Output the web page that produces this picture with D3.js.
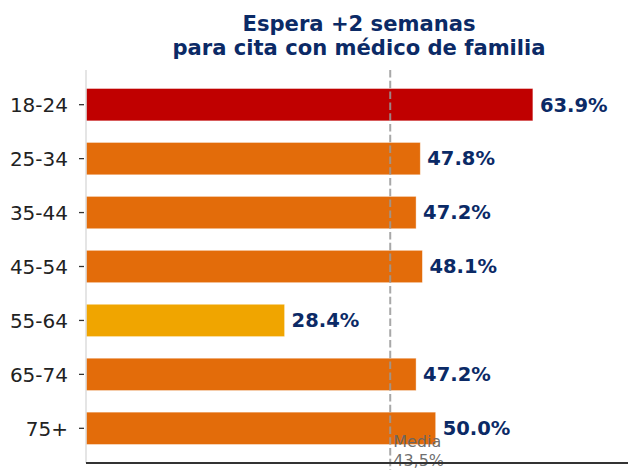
<!DOCTYPE html>
<html>
<head>
<meta charset="utf-8">
<script src="https://cdn.jsdelivr.net/npm/d3@7"></script>
<style>
  body { margin: 0; background: #fff; }
  svg { display: block; font-family: "DejaVu Sans", sans-serif; }
</style>
</head>
<body>
<div id="chart"></div>
<script>
'use strict'

// datos
let grupos = ["18-24", "25-34", "35-44", "45-54", "55-64", "65-74", "75+"]
let valores = [63.9, 47.8, 47.2, 48.1, 28.4, 47.2, 50.0]
let colores = ["#c00000", "#e36c0a", "#e36c0a", "#e36c0a", "#f0a500", "#e36c0a", "#e36c0a"]
let media = 43.5
let titulo = ["Espera +2 semanas", "para cita con médico de familia"]
let etiquetaMedia = ["Media", "43,5%"]

function wrapper(){
	let width = 628
	let height = 471
	let navy = "#0b2a66"
	let fmt = d3.format(".1f")

	let svg = d3.select("#chart").append("svg")
		.attr("width", width)
		.attr("height", height)

	let x = d3.scaleLinear().domain([0, 77.5]).range([86, 628])
	let y = d3.scaleBand().domain(grupos).range([70, 463])
		.paddingInner(0.4).paddingOuter(0.343)

	// titulo
	svg.append("text")
		.attr("x", 359)
		.attr("y", 31)
		.attr("text-anchor", "middle")
		.style("font-size", "21.1px")
		.style("font-weight", "bold")
		.style("fill", navy)
		.selectAll("tspan").data(titulo).enter().append("tspan")
		.attr("x", 359)
		.attr("dy", function(d, i){ return i == 0 ? 0 : 24 })
		.text(function(d){ return d })

	// barras
	svg.append("g").selectAll("rect").data(grupos).enter().append("rect")
		.attr("x", x(0))
		.attr("y", function(d){ return y(d) })
		.attr("width", function(d, i){ return x(valores[i]) - x(0) })
		.attr("height", y.bandwidth())
		.style("fill", function(d, i){ return colores[i] })
		.style("stroke", "#fff")
		.style("stroke-opacity", 0.5)
		.style("stroke-width", 0.8)

	// etiquetas de valor
	svg.append("g").selectAll("text").data(grupos).enter().append("text")
		.attr("x", function(d, i){ return x(valores[i]) + 7 })
		.attr("y", function(d){ return y(d) + y.bandwidth() / 2 })
		.attr("dy", "0.35em")
		.style("font-size", "19.5px")
		.style("font-weight", "bold")
		.style("fill", navy)
		.text(function(d, i){ return fmt(valores[i]) + "%" })

	// eje y
	let yAxis = svg.append("g")
		.attr("transform", "translate(84,0)")
		.call(d3.axisLeft(y).tickSize(5).tickPadding(11))
	yAxis.select(".domain").remove()
	yAxis.selectAll(".tick line").style("stroke", "#333").style("stroke-width", 1.3)
	yAxis.selectAll(".tick text")
		.style("font-size", "20px")
		.style("font-family", "DejaVu Sans, sans-serif")
		.style("fill", "#222")
		.attr("dy", "0.37em")

	// spines
	svg.append("line")
		.attr("x1", 86).attr("x2", 86)
		.attr("y1", 70).attr("y2", 463)
		.style("stroke", "#dddddd")
		.style("stroke-width", 1.5)

	// linea de media
	svg.append("line")
		.attr("x1", x(media)).attr("x2", x(media))
		.attr("y1", 70).attr("y2", 470)
		.style("stroke", "#999")
		.style("stroke-opacity", 0.85)
		.style("stroke-width", 2)
		.style("stroke-dasharray", "7.5,3.3")

	svg.append("text")
		.attr("x", x(media) + 3)
		.attr("y", 447)
		.style("font-size", "16px")
		.style("fill", "#666")
		.style("fill-opacity", 0.95)
		.selectAll("tspan").data(etiquetaMedia).enter().append("tspan")
		.attr("x", x(media) + 3)
		.attr("dy", function(d, i){ return i == 0 ? 0 : 19 })
		.text(function(d){ return d })

	svg.append("line")
		.attr("x1", 86).attr("x2", 628)
		.attr("y1", 463).attr("y2", 463)
		.style("stroke", "#333")
		.style("stroke-width", 1.8)
}

wrapper();
</script>
</body>
</html>
